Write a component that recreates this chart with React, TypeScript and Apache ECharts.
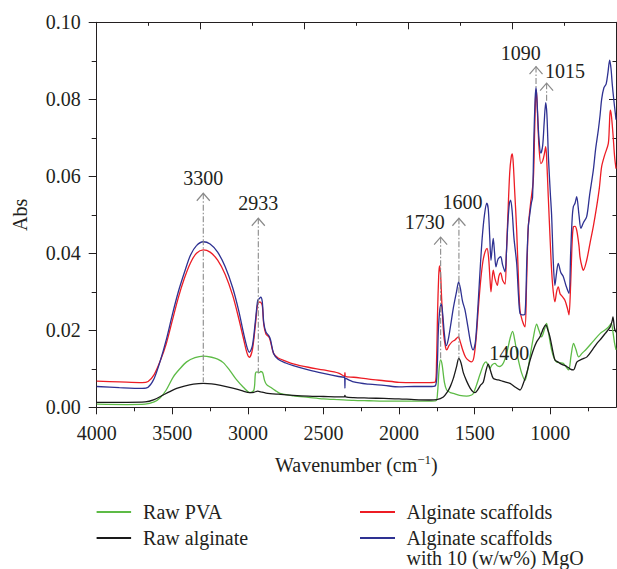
import React, { useEffect, useRef } from 'react';
import * as echarts from 'echarts';

const FONT = '"Liberation Serif", "Times New Roman", serif';
const INK = '#231f20';

const seriesNames = ['Raw PVA', 'Raw alginate', 'Alginate scaffolds', 'Alginate scaffolds with 10 (w/w%) MgO'];
const seriesColors = ['#5DBB46', '#1a1a1a', '#ED1C24', '#2E3192'];

const xMajorTicks = [4000, 3500, 3000, 2500, 2000, 1500, 1000];
const xMinorTicks = [3750, 3250, 2750, 2250, 1750, 1250, 750];

// Raw PVA [wavenumber, Abs]
const rawPVA: [number, number][] = [
  [4000, 0.0008], [3800, 0.0007], [3680, 0.0008], [3620, 0.0014], [3580, 0.0025], [3540, 0.0045],
  [3493, 0.0079], [3450, 0.0100], [3405, 0.0118], [3350, 0.0129], [3295, 0.0133], [3240, 0.0130],
  [3200, 0.0125], [3163, 0.0116], [3120, 0.0096], [3074, 0.0071], [3030, 0.0052], [2986, 0.0038],
  [2960, 0.0045], [2950, 0.0088], [2940, 0.0092], [2925, 0.0090], [2915, 0.0093], [2902, 0.0090],
  [2890, 0.0070], [2876, 0.0059], [2850, 0.0052], [2820, 0.0044], [2788, 0.0036], [2700, 0.0030],
  [2600, 0.0026], [2500, 0.0022], [2400, 0.0020], [2300, 0.0018], [2200, 0.0017], [2100, 0.0016],
  [2000, 0.0016], [1900, 0.0016], [1800, 0.0016], [1756, 0.0017], [1745, 0.0040], [1735, 0.0100],
  [1725, 0.0123], [1715, 0.0110], [1700, 0.0065], [1685, 0.0045], [1660, 0.0038], [1641, 0.0036],
  [1600, 0.0031], [1553, 0.0029], [1520, 0.0032], [1509, 0.0036], [1490, 0.0055], [1465, 0.0085],
  [1440, 0.0112], [1425, 0.0118], [1412, 0.0110], [1399, 0.0101], [1385, 0.0110], [1366, 0.0114],
  [1350, 0.0108], [1333, 0.0106], [1310, 0.0115], [1288, 0.0140], [1265, 0.0180], [1249, 0.0197],
  [1235, 0.0175], [1222, 0.0145], [1211, 0.0123], [1190, 0.0090], [1167, 0.0070], [1150, 0.0095],
  [1130, 0.0140], [1110, 0.0185], [1090, 0.0216], [1075, 0.0200], [1057, 0.0183], [1040, 0.0200],
  [1024, 0.0218], [1010, 0.0190], [991, 0.0149], [975, 0.0128], [958, 0.0118], [936, 0.0116],
  [914, 0.0114], [895, 0.0105], [878, 0.0097], [862, 0.0135], [846, 0.0166], [830, 0.0150],
  [812, 0.0131], [790, 0.0140], [759, 0.0152], [715, 0.0172], [669, 0.0192], [640, 0.0200],
  [614, 0.0209], [596, 0.0218], [585, 0.0195], [575, 0.0168], [565, 0.0149]
];

// Raw alginate
const rawAlginate: [number, number][] = [
  [4000, 0.0013], [3800, 0.0013], [3680, 0.0014], [3620, 0.0020], [3560, 0.0032], [3520, 0.0040],
  [3471, 0.0049], [3420, 0.0055], [3360, 0.0060], [3295, 0.0062], [3240, 0.0061], [3180, 0.0057],
  [3100, 0.0050], [3040, 0.0043], [2986, 0.0038], [2960, 0.0039], [2935, 0.0042], [2915, 0.0040],
  [2880, 0.0037], [2800, 0.0034], [2700, 0.0031], [2600, 0.0029], [2500, 0.0028], [2400, 0.0027],
  [2362, 0.0027], [2358, 0.0031], [2354, 0.0027], [2300, 0.0025], [2200, 0.0024], [2100, 0.0023],
  [2000, 0.0022], [1900, 0.0020], [1800, 0.0019], [1750, 0.0020], [1707, 0.0027], [1680, 0.0040],
  [1660, 0.0055], [1641, 0.0075], [1620, 0.0105], [1605, 0.0127], [1590, 0.0115], [1575, 0.0090],
  [1553, 0.0068], [1530, 0.0050], [1510, 0.0040], [1498, 0.0038], [1480, 0.0045], [1460, 0.0058],
  [1443, 0.0065], [1425, 0.0095], [1410, 0.0112], [1395, 0.0095], [1377, 0.0075], [1355, 0.0072],
  [1333, 0.0070], [1300, 0.0066], [1266, 0.0062], [1230, 0.0052], [1200, 0.0045], [1180, 0.0060],
  [1156, 0.0088], [1135, 0.0120], [1112, 0.0149], [1090, 0.0170], [1068, 0.0183], [1045, 0.0205],
  [1030, 0.0214], [1015, 0.0200], [1002, 0.0183], [985, 0.0150], [969, 0.0123], [950, 0.0118],
  [936, 0.0114], [914, 0.0110], [891, 0.0106], [870, 0.0100], [847, 0.0097], [823, 0.0118],
  [790, 0.0125], [757, 0.0131], [720, 0.0150], [691, 0.0166], [660, 0.0180], [636, 0.0192],
  [603, 0.0209], [590, 0.0225], [585, 0.0235], [575, 0.0205], [565, 0.0195]
];

// Alginate scaffolds
const alginateScaffolds: [number, number][] = [
  [4000, 0.0068], [3850, 0.0066], [3700, 0.0064], [3660, 0.0067], [3620, 0.0085], [3580, 0.0120],
  [3540, 0.0165], [3500, 0.0225], [3460, 0.0285], [3420, 0.0335], [3380, 0.0375], [3340, 0.0400],
  [3295, 0.0409], [3250, 0.0403], [3200, 0.0382], [3150, 0.0345], [3100, 0.0290], [3060, 0.0230],
  [3030, 0.0180], [3005, 0.0140], [2990, 0.0130], [2970, 0.0150], [2950, 0.0215], [2935, 0.0268],
  [2920, 0.0274], [2905, 0.0265], [2895, 0.0215], [2880, 0.0190], [2860, 0.0182], [2850, 0.0170],
  [2830, 0.0140], [2800, 0.0128], [2750, 0.0120], [2700, 0.0113], [2600, 0.0104], [2500, 0.0097],
  [2400, 0.0089], [2362, 0.0081], [2358, 0.0090], [2354, 0.0080], [2300, 0.0078], [2200, 0.0073],
  [2100, 0.0069], [2000, 0.0065], [1900, 0.0064], [1800, 0.0064], [1760, 0.0066], [1752, 0.0120],
  [1745, 0.0250], [1738, 0.0340], [1733, 0.0367], [1726, 0.0350], [1718, 0.0280], [1705, 0.0190],
  [1692, 0.0155], [1685, 0.0149], [1670, 0.0160], [1650, 0.0170], [1630, 0.0175], [1608, 0.0183],
  [1595, 0.0170], [1580, 0.0150], [1560, 0.0130], [1535, 0.0120], [1520, 0.0118], [1505, 0.0130],
  [1490, 0.0180], [1475, 0.0260], [1460, 0.0330], [1445, 0.0380], [1430, 0.0405], [1418, 0.0413],
  [1408, 0.0390], [1398, 0.0330], [1392, 0.0300], [1385, 0.0330], [1377, 0.0356], [1366, 0.0335],
  [1350, 0.0317], [1340, 0.0340], [1328, 0.0349], [1315, 0.0330], [1299, 0.0320], [1290, 0.0400],
  [1280, 0.0500], [1268, 0.0610], [1258, 0.0650], [1251, 0.0658], [1244, 0.0630], [1235, 0.0560],
  [1222, 0.0460], [1210, 0.0330], [1200, 0.0252], [1185, 0.0225], [1167, 0.0209], [1158, 0.0300],
  [1150, 0.0420], [1145, 0.0470], [1130, 0.0530], [1112, 0.0590], [1103, 0.0720], [1096, 0.0815],
  [1092, 0.0824], [1086, 0.0780], [1075, 0.0680], [1062, 0.0633], [1050, 0.0640], [1038, 0.0660],
  [1030, 0.0677], [1024, 0.0650], [1013, 0.0547], [1000, 0.0430], [991, 0.0356], [980, 0.0300],
  [969, 0.0274], [958, 0.0300], [947, 0.0313], [935, 0.0295], [925, 0.0290], [903, 0.0278],
  [885, 0.0255], [876, 0.0240], [865, 0.0320], [855, 0.0430], [847, 0.0469], [836, 0.0470],
  [825, 0.0460], [810, 0.0420], [803, 0.0390], [790, 0.0365], [781, 0.0356], [760, 0.0380],
  [737, 0.0426], [715, 0.0470], [693, 0.0521], [675, 0.0570], [660, 0.0625], [640, 0.0655],
  [616, 0.0685], [609, 0.0730], [603, 0.0772], [596, 0.0760], [585, 0.0710], [574, 0.0650],
  [565, 0.0620]
];

// Alginate scaffolds with 10 (w/w%) MgO
const alginateMgO: [number, number][] = [
  [4000, 0.0054], [3850, 0.0051], [3700, 0.0049], [3660, 0.0052], [3620, 0.0075], [3580, 0.0120],
  [3540, 0.0175], [3500, 0.0240], [3460, 0.0300], [3420, 0.0350], [3380, 0.0395], [3340, 0.0420],
  [3295, 0.0430], [3250, 0.0424], [3200, 0.0403], [3150, 0.0365], [3100, 0.0310], [3060, 0.0250],
  [3030, 0.0195], [3005, 0.0155], [2990, 0.0143], [2970, 0.0160], [2950, 0.0225], [2935, 0.0278],
  [2925, 0.0282], [2915, 0.0286], [2905, 0.0275], [2895, 0.0220], [2880, 0.0195], [2860, 0.0185],
  [2850, 0.0175], [2830, 0.0140], [2800, 0.0125], [2750, 0.0115], [2700, 0.0108], [2600, 0.0097],
  [2500, 0.0088], [2400, 0.0080], [2362, 0.0078], [2360, 0.0080], [2358, 0.0050], [2356, 0.0076],
  [2300, 0.0066], [2200, 0.0060], [2100, 0.0057], [2000, 0.0053], [1900, 0.0054], [1800, 0.0054],
  [1760, 0.0056], [1748, 0.0100], [1740, 0.0200], [1730, 0.0255], [1720, 0.0268], [1712, 0.0245],
  [1700, 0.0190], [1688, 0.0160], [1675, 0.0175], [1660, 0.0210], [1640, 0.0260], [1620, 0.0300],
  [1606, 0.0326], [1595, 0.0310], [1580, 0.0275], [1564, 0.0253], [1545, 0.0210], [1525, 0.0165],
  [1510, 0.0149], [1495, 0.0170], [1480, 0.0250], [1465, 0.0350], [1450, 0.0440], [1435, 0.0500],
  [1420, 0.0530], [1410, 0.0515], [1400, 0.0440], [1392, 0.0382], [1385, 0.0410], [1377, 0.0439],
  [1368, 0.0400], [1359, 0.0365], [1345, 0.0385], [1328, 0.0391], [1315, 0.0370], [1299, 0.0352],
  [1290, 0.0400], [1280, 0.0480], [1270, 0.0530], [1262, 0.0538], [1252, 0.0510], [1240, 0.0440],
  [1222, 0.0374], [1210, 0.0290], [1200, 0.0244], [1185, 0.0240], [1167, 0.0242], [1155, 0.0380],
  [1145, 0.0470], [1139, 0.0490], [1125, 0.0530], [1117, 0.0545], [1108, 0.0700], [1100, 0.0800],
  [1094, 0.0831], [1088, 0.0800], [1075, 0.0700], [1062, 0.0660], [1050, 0.0680], [1040, 0.0740],
  [1030, 0.0791], [1022, 0.0760], [1012, 0.0650], [1000, 0.0560], [991, 0.0500], [980, 0.0380],
  [969, 0.0317], [958, 0.0350], [947, 0.0374], [930, 0.0350], [914, 0.0340], [895, 0.0315],
  [876, 0.0296], [865, 0.0400], [855, 0.0490], [847, 0.0521], [836, 0.0530], [825, 0.0547],
  [810, 0.0500], [797, 0.0465], [780, 0.0480], [759, 0.0495], [740, 0.0550], [715, 0.0616],
  [700, 0.0670], [682, 0.0720], [670, 0.0760], [660, 0.0800], [645, 0.0830], [630, 0.0840],
  [618, 0.0870], [607, 0.0902], [598, 0.0880], [590, 0.0840], [580, 0.0800], [570, 0.0765],
  [565, 0.0747]
];

// Peak annotations
const peakLabels = ['3300', '2933', '1730', '1600', '1090', '1015', '1400'];
const peakWavenumbers = [3295, 2931, 1725, 1604, 1094, 1024, 1410];
const peakBaseAbs = [0.0066, 0.0088, 0.0123, 0.0127, 0.0831, 0.0791, 0.0112];
const peakTipAbs = [0.0556, 0.0491, 0.0442, 0.0491, 0.0885, 0.0842, 0.0112];

// label placement relative to the arrow tip (style)
const labelPlacement: Record<string, { align: string; dx: number; dy: number; arrow: boolean }> = {
  '3300': { align: 'center', dx: 0, dy: -15.3, arrow: true },
  '2933': { align: 'center', dx: 0, dy: -15, arrow: true },
  '1730': { align: 'right', dx: 4, dy: -15.6, arrow: true },
  '1600': { align: 'center', dx: 3.5, dy: -16.6, arrow: true },
  '1090': { align: 'right', dx: 4.7, dy: -13.4, arrow: true },
  '1015': { align: 'left', dx: -1.7, dy: -12.6, arrow: true },
  '1400': { align: 'left', dx: 1, dy: -11, arrow: false },
};

const annotationData = peakLabels.map((_, i) => [peakWavenumbers[i], peakBaseAbs[i], peakTipAbs[i]]);

export default function App() {
  const ref = useRef<HTMLDivElement>(null);

  useEffect(() => {
    if (!ref.current) return;
    const chart = echarts.init(ref.current, undefined, { renderer: 'svg' });
    const textBase = { fontFamily: FONT, fontSize: 20, color: INK };
    const lineSeries = [rawPVA, rawAlginate, alginateScaffolds, alginateMgO].map((d, i) => ({
      type: 'line',
      name: seriesNames[i],
      data: d,
      xAxisIndex: 0,
      yAxisIndex: 0,
      showSymbol: false,
      symbol: 'none',
      smooth: 0.3,
      color: seriesColors[i],
      lineStyle: { color: seriesColors[i], width: 1.3 },
      z: 2 + i,
    }));

    const option: any = {
      animation: false,
      backgroundColor: '#ffffff',
      grid: { left: 96.7, right: 1, top: 22.3, bottom: 161.7, containLabel: false },
      xAxis: [
        {
          type: 'value',
          min: 565,
          max: 4000,
          inverse: true,
          position: 'bottom',
          name: '{a|Wavenumber (cm}{s|\u22121}{a|)}',
          nameLocation: 'middle',
          nameGap: 46,
          nameTextStyle: {
            ...textBase,
            rich: {
              a: { fontFamily: FONT, fontSize: 20, color: INK, lineHeight: 24 },
              s: { fontFamily: FONT, fontSize: 13, color: INK, lineHeight: 11, verticalAlign: 'top' },
            },
          },
          axisLine: { show: true, onZero: false, lineStyle: { color: INK, width: 1 } },
          axisTick: { show: true, length: 7, customValues: xMajorTicks, lineStyle: { color: INK } },
          axisLabel: {
            show: true,
            margin: 16,
            customValues: xMajorTicks,
            ...textBase,
            formatter: (v: number) => String(Math.round(v)),
          },
          splitLine: { show: false },
        },
        {
          type: 'value',
          min: 565,
          max: 4000,
          inverse: true,
          position: 'bottom',
          axisLine: { show: false, onZero: false },
          axisTick: { show: true, length: 4, customValues: xMinorTicks, lineStyle: { color: INK } },
          axisLabel: { show: false },
          splitLine: { show: false },
        },
        {
          type: 'value',
          min: 0,
          max: 10,
          interval: 2,
          position: 'top',
          axisLine: { show: true, onZero: false, lineStyle: { color: INK, width: 1 } },
          axisTick: { show: true, inside: true, length: 7, lineStyle: { color: INK } },
          minorTick: { show: true, splitNumber: 2, length: 3.5, lineStyle: { color: INK } },
          axisLabel: { show: false },
          splitLine: { show: false },
        },
      ],
      yAxis: [
        {
          type: 'value',
          min: 0,
          max: 0.1,
          interval: 0.02,
          position: 'left',
          name: 'Abs',
          nameLocation: 'middle',
          nameGap: 67,
          nameTextStyle: { ...textBase },
          axisLine: { show: true, onZero: false, lineStyle: { color: INK, width: 1 } },
          axisTick: { show: true, length: 8, lineStyle: { color: INK } },
          minorTick: { show: true, splitNumber: 2, length: 5, lineStyle: { color: INK } },
          axisLabel: { show: true, margin: 16, ...textBase, formatter: (v: number) => v.toFixed(2) },
          splitLine: { show: false },
        },
        {
          type: 'value',
          min: 0,
          max: 0.1,
          interval: 0.02,
          position: 'right',
          axisLine: { show: true, onZero: false, lineStyle: { color: INK, width: 1 } },
          axisTick: { show: true, inside: true, length: 7, lineStyle: { color: INK } },
          minorTick: { show: true, splitNumber: 2, length: 3.5, lineStyle: { color: INK } },
          axisLabel: { show: false },
          splitLine: { show: false },
        },
      ],
      legend: [
        {
          data: [seriesNames[0], seriesNames[1]],
          orient: 'vertical',
          left: 96.6,
          top: 499,
          padding: 0,
          itemGap: 0,
          itemWidth: 34.5,
          itemHeight: 2,
          icon: 'rect',
          selectedMode: false,
          textStyle: { ...textBase, lineHeight: 26, padding: [0, 0, 0, 7] },
        },
        {
          data: [seriesNames[2]],
          orient: 'vertical',
          left: 360,
          top: 499,
          padding: 0,
          itemWidth: 35,
          itemHeight: 2,
          icon: 'rect',
          selectedMode: false,
          textStyle: { ...textBase, lineHeight: 26, padding: [0, 0, 0, 6.5] },
        },
        {
          data: [seriesNames[3]],
          orient: 'vertical',
          left: 360,
          top: 508,
          padding: 0,
          itemWidth: 35,
          itemHeight: 2,
          icon: 'rect',
          selectedMode: false,
          formatter: () => '{e|\u00a0}\n{a|Alginate scaffolds}\n{a|with 10 (w/w%) MgO}',
          textStyle: {
            ...textBase,
            lineHeight: 20,
            padding: [0, 0, 0, 6.5],
            rich: {
              e: { fontFamily: FONT, fontSize: 20, lineHeight: 20, color: INK },
              a: { fontFamily: FONT, fontSize: 20, lineHeight: 20, color: INK },
            },
          },
        },
      ],
      series: [
        ...lineSeries,
        {
          type: 'custom',
          name: 'annotations',
          xAxisIndex: 0,
          yAxisIndex: 0,
          silent: true,
          z: 10,
          data: annotationData,
          encode: { x: 0, y: [1, 2] },
          renderItem: (params: any, api: any) => {
            const i = params.dataIndex;
            const label = peakLabels[i];
            const place = labelPlacement[label];
            const w = api.value(0);
            const pBase = api.coord([w, api.value(1)]);
            const pTip = api.coord([w, api.value(2)]);
            const gray = '#8a8a8a';
            const children: any[] = [];
            if (place.arrow) {
              children.push({
                type: 'line',
                shape: { x1: pTip[0], y1: pTip[1], x2: pBase[0], y2: pBase[1] },
                style: { stroke: gray, lineWidth: 1.1, lineDash: [6, 2, 1.5, 2], fill: null },
              });
              children.push({
                type: 'polyline',
                shape: {
                  points: [
                    [pTip[0] - 6.5, pTip[1] + 7.5],
                    [pTip[0], pTip[1]],
                    [pTip[0] + 6.5, pTip[1] + 7.5],
                  ],
                },
                style: { stroke: gray, lineWidth: 1.2, fill: null },
              });
            }
            children.push({
              type: 'text',
              x: pTip[0] + place.dx,
              y: pTip[1] + place.dy,
              style: {
                text: label,
                fill: INK,
                font: `20px ${FONT}`,
                align: place.align,
                verticalAlign: 'middle',
              },
            });
            return { type: 'group', children };
          },
        },
      ],
    };
    chart.setOption(option);
    return () => chart.dispose();
  }, []);

  return (
    <div
      ref={ref}
      style={{ position: 'absolute', left: 0, top: 0, width: 617, height: 569, background: '#fff' }}
    />
  );
}
